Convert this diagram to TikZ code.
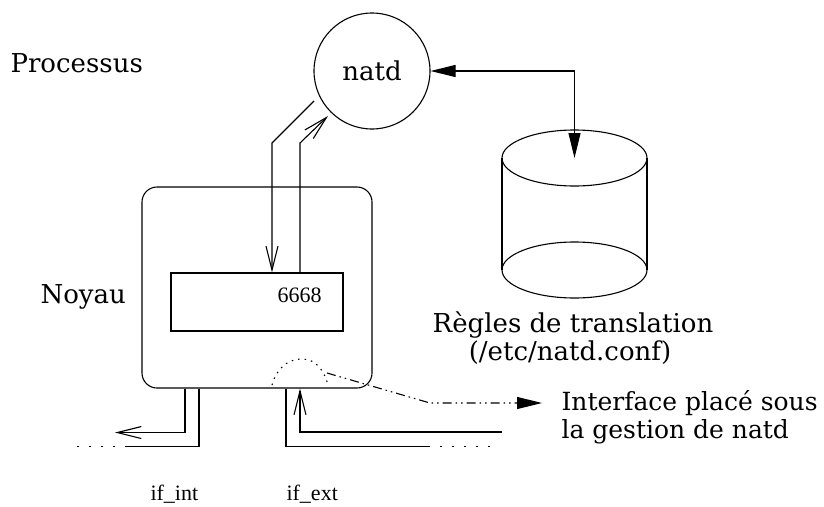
\documentclass[tikz,border=0pt]{standalone}
\usepackage{fontspec}
\setmainfont{DejaVu Serif}
\newfontfamily\petite{Liberation Serif}
\usetikzlibrary{arrows.meta,calc}

\begin{document}
\begin{tikzpicture}[
  x=1pt,y=-1pt,
  line width=1.1pt,
  every node/.style={font=\fontsize{26}{28}\selectfont},
  lbl/.style={anchor=base west,inner sep=0},
  petit/.style={anchor=base west,inner sep=0,font=\petite\fontsize{22}{22}\selectfont},
  fleche/.style={-{Straight Barb[length=24pt,width=12pt,line width=1.1pt]}},
  plein/.style={-{Triangle[length=25pt,width=12pt]}},
  pointille/.style={dash pattern=on 2pt off 10pt},
  tiretpt/.style={dash pattern=on 9pt off 4pt on 1.5pt off 4pt on 1.5pt off 4pt}
]
\useasboundingbox (0,0) rectangle (824,506);

% processus
\node[lbl] (processus) at (10,72) {Processus};
\node[draw,circle,minimum size=116pt,inner sep=0] (natd) at (372,71) {natd};

% base des regles
\coordinate (dbtop) at (574.5,158);
\coordinate (dbbas) at (574.5,270);
\draw (dbtop) ellipse (72.5 and 28);
\draw (dbbas) ellipse (72.5 and 28);
\draw ($(dbtop)+(-72.5,0)$) -- ($(dbbas)+(-72.5,0)$);
\draw ($(dbtop)+(72.5,0)$) -- ($(dbbas)+(72.5,0)$);
\node[anchor=base,inner sep=0] (regles) at (573,332) {Règles de translation};
\node[anchor=base,inner sep=0] (conf) at (570,360) {(/etc/natd.conf)};
\draw[{Triangle[length=25pt,width=12pt]}-{Triangle[length=25pt,width=12pt]}] (natd.east) -| (dbtop);

% noyau
\node[lbl] (noyaulbl) at (40,303) {Noyau};
\node[draw,rounded corners=15pt,minimum width=230pt,minimum height=201pt,inner sep=0] (noyau) at (257,287.5) {};
\node[draw,minimum width=172pt,minimum height=58pt,inner sep=0] (tampon) at (257,302) {};
\node[petit] (port) at (277,302) {6668};

\draw[fleche] ($(natd.center)+(-58,30)$) -- (272,143) -- ([xshift=15pt]tampon.north);
\draw[fleche] ([xshift=43pt]tampon.north) -- (300,143) -- ($(natd.center)+(-44,45)$);

% interfaces
\draw[fleche] ([xshift=-72pt]noyau.south) -- ++(0,44) -- ++(-70,0);
\draw ([xshift=-58pt]noyau.south) -- ++(0,58) -- ++(-72,0) coordinate (intg);
\draw[pointille] (intg) -- ++(-55,0);
\draw ([xshift=29pt]noyau.south) -- ++(0,58) -- ++(142,0) coordinate (extd);
\draw[pointille] (extd) -- ++(65,0);
\draw[fleche] (502,432) -- (300,432) -- ([xshift=43pt]noyau.south);
\node[petit] (ifint) at (150,500) {if\_int};
\node[petit] (ifext) at (286,500) {if\_ext};

% interface sous natd
\draw[pointille,dash pattern=on 1.5pt off 5pt] (272,385) to[out=75,in=180] (302,359) to[out=0,in=105] (328,385);
\draw[tiretpt,plein] (327,373) -- (430,403) -- (542,403);
\node[lbl,font=\fontsize{25}{28}\selectfont] (iface1) at (561,410) {Interface placé sous};
\node[lbl,font=\fontsize{25}{28}\selectfont] (iface2) at (561,438) {la gestion de natd};
\end{tikzpicture}
\end{document}
